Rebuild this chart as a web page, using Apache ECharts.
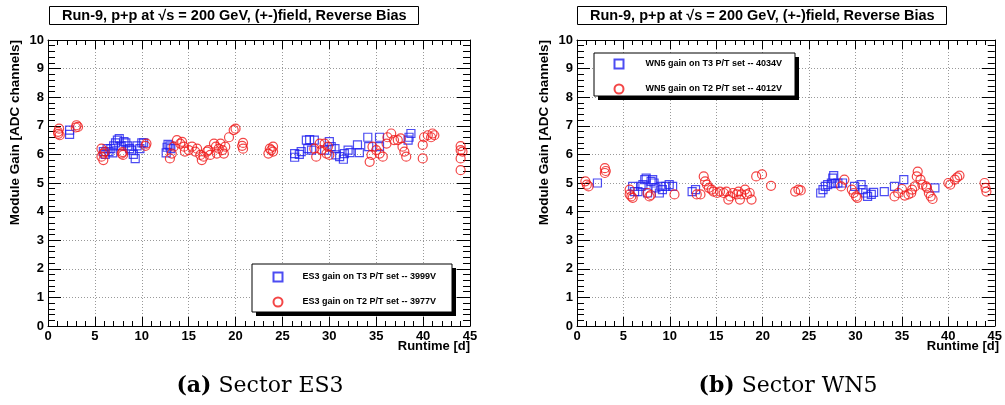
<!DOCTYPE html>
<html>
<head>
<meta charset="utf-8">
<script src="https://cdn.jsdelivr.net/npm/echarts@6/dist/echarts.min.js"></script>
<style>
  html, body { margin: 0; padding: 0; background: #fff; }
  #main { width: 1005px; height: 405px; }
</style>
</head>
<body>
<div id="main"></div>
<script>
// runtime [d] / module gain [ADC channels]
const es3T3 = [
  [2.3, 6.85], [2.3, 6.7],
  [5.9, 6.1], [6.1, 6.0], [6.3, 6.2], [6.5, 6.1], [6.7, 6.2], [6.9, 6.05], [7.0, 6.3], [7.2, 6.4],
  [7.4, 6.5], [7.6, 6.55], [7.8, 6.3], [8.1, 6.45], [8.3, 6.4], [8.5, 6.3], [8.7, 6.2], [8.9, 6.15],
  [9.1, 6.0], [9.3, 5.85], [9.5, 6.3], [9.8, 6.2], [10.0, 6.4], [10.2, 6.4],
  [12.6, 6.05], [12.7, 6.25], [12.8, 6.35], [13.0, 6.3], [13.1, 6.2],
  [26.3, 6.03], [26.3, 5.9], [26.8, 6.0], [27.0, 6.1], [27.55, 6.5], [27.7, 6.2], [27.9, 6.52],
  [28.1, 6.15], [28.4, 6.5], [29.5, 6.15], [30.0, 6.45], [30.2, 6.27], [30.6, 6.2], [30.7, 5.98],
  [31.1, 5.92], [31.5, 5.83], [31.6, 6.03], [32.0, 6.15], [32.2, 6.06], [33.0, 6.33], [33.2, 6.06],
  [34.1, 6.6], [34.2, 6.27], [35.35, 6.6], [35.35, 6.27], [38.4, 6.5], [38.5, 6.6], [38.7, 6.73]
];
const es3T2 = [
  [1.07, 6.79], [1.18, 6.9], [1.25, 6.67], [1.1, 6.72],
  [2.96, 6.94], [3.04, 7.02], [3.2, 6.96],
  [5.7, 6.2], [5.7, 5.92], [5.9, 5.8], [5.9, 6.03], [6.05, 6.1],
  [7.86, 6.03], [8.0, 5.98], [7.95, 6.08],
  [10.4, 6.3], [10.5, 6.38],
  [13.0, 5.86], [13.2, 6.03], [13.4, 6.27], [13.75, 6.5], [14.1, 6.38], [14.3, 6.44], [14.5, 6.27],
  [14.6, 6.1], [15.0, 6.15], [15.36, 6.27], [15.7, 6.1], [15.9, 6.2], [16.25, 5.98], [16.4, 5.8],
  [16.6, 5.92], [16.96, 6.1], [17.1, 6.15], [17.3, 5.98], [17.7, 6.38], [17.9, 6.27], [18.0, 6.03],
  [18.2, 6.2], [18.4, 6.38], [18.6, 6.15], [18.75, 6.03], [18.9, 6.27], [19.3, 6.6], [19.8, 6.85], [20.0, 6.9],
  [20.7, 6.3], [20.8, 6.2], [20.8, 6.4],
  [23.5, 6.03], [23.65, 6.2], [23.8, 6.15], [24.0, 6.1], [24.0, 6.27],
  [28.4, 6.2], [28.6, 5.92], [28.97, 6.38], [29.15, 6.15], [29.5, 6.38], [29.7, 6.03], [29.85, 6.27], [30.0, 5.98],
  [34.3, 5.74], [34.5, 5.98], [34.6, 6.27], [35.0, 6.15], [35.35, 6.03], [35.7, 5.92], [36.1, 6.38],
  [36.2, 6.6], [36.6, 6.73], [36.9, 6.5], [37.3, 6.5], [37.6, 6.56], [37.8, 6.27], [38.0, 6.1], [38.2, 5.92],
  [39.96, 6.33], [39.96, 5.86], [40.1, 6.6], [40.5, 6.67], [40.85, 6.6], [41.0, 6.73], [41.2, 6.67],
  [44.0, 6.29], [44.0, 6.15], [44.0, 5.86], [44.0, 5.45], [44.2, 6.1]
];
const wn5T3 = [
  [2.2, 5.0],
  [6.0, 4.88], [6.2, 4.7], [6.56, 4.7], [6.9, 4.88], [7.1, 4.94], [7.3, 5.12], [7.45, 5.17], [7.6, 4.65],
  [7.98, 5.06], [8.15, 5.12], [8.3, 5.0], [8.5, 4.83], [8.87, 4.65], [9.04, 4.88], [9.2, 4.77],
  [9.57, 4.88], [9.93, 4.94], [10.3, 4.88],
  [12.4, 4.7], [12.77, 4.77],
  [26.25, 4.65], [26.5, 4.77], [26.75, 4.88], [27.0, 4.94], [27.4, 5.0], [27.55, 5.17], [27.65, 5.26],
  [27.8, 4.98], [28.1, 5.0], [28.6, 5.0], [29.9, 4.88], [30.6, 4.94], [30.8, 4.77], [31.1, 4.65],
  [31.3, 4.53], [31.7, 4.6], [31.95, 4.67], [33.1, 4.7], [34.2, 4.88], [35.2, 5.12], [38.55, 4.83]
];
const wn5T2 = [
  [0.9, 5.06], [1.06, 4.94], [1.24, 4.88],
  [3.0, 5.52], [3.0, 5.35], [3.1, 5.42],
  [5.67, 4.77], [5.67, 4.6], [5.85, 4.53], [6.0, 4.48],
  [7.6, 4.65], [7.8, 4.53], [7.95, 4.58],
  [10.5, 4.6],
  [12.9, 4.6], [13.3, 4.6], [13.65, 5.23], [13.8, 5.06], [14.0, 4.94], [14.2, 4.83], [14.5, 4.77],
  [14.7, 4.7], [15.1, 4.65], [15.4, 4.7], [15.8, 4.65], [16.1, 4.7], [16.3, 4.42], [16.5, 4.53],
  [16.8, 4.65], [17.2, 4.6], [17.4, 4.7], [17.55, 4.42], [17.7, 4.6], [18.1, 4.77], [18.3, 4.6],
  [18.6, 4.65], [18.8, 4.42], [19.3, 5.23], [19.93, 5.3],
  [20.9, 4.9], [23.5, 4.7], [23.85, 4.77], [24.1, 4.74],
  [28.45, 4.88], [28.8, 5.12], [29.6, 4.77], [29.8, 4.65], [30.05, 4.53], [30.2, 4.48],
  [34.2, 4.53], [34.6, 4.65], [35.0, 4.79], [35.3, 4.56], [35.7, 4.6], [36.0, 4.65], [36.1, 4.77],
  [36.4, 4.88], [36.6, 5.23], [36.7, 5.4], [37.0, 5.12], [37.2, 4.94], [37.6, 4.88], [37.7, 4.83],
  [37.9, 4.65], [38.1, 4.53], [38.3, 4.44],
  [40.0, 5.0], [40.2, 4.94], [40.7, 5.12], [40.95, 5.2], [41.2, 5.26],
  [43.9, 5.0], [44.0, 4.83], [44.1, 4.7]
];

const names = {
  es3T3: 'ES3 gain on T3 P/T set -- 3999V',
  es3T2: 'ES3 gain on T2 P/T set -- 3977V',
  wn5T3: 'WN5 gain on T3 P/T set -- 4034V',
  wn5T2: 'WN5 gain on T2 P/T set -- 4012V'
};
const titleText = 'Run-9, p+p at \u221As = 200 GeV, (+-)field, Reverse Bias';

const FONT = 'Liberation Sans, Arial, sans-serif';
const SERIF = 'DejaVu Serif, Liberation Serif, serif';
const BLUE = '#1f1fef';
const RED = '#f01818';

function xAx (grid, top) {
  return {
    type: 'value', gridIndex: grid, position: top ? 'top' : 'bottom',
    min: 0, max: 45, interval: 5,
    axisLine: { show: true, onZero: false, lineStyle: { color: '#000', width: 1 } },
    axisTick: { show: true, inside: true, length: 9, lineStyle: { color: '#000' } },
    minorTick: { show: true, splitNumber: 5, length: 5, lineStyle: { color: '#000' } },
    splitLine: { show: !top, lineStyle: { color: '#999', type: [1, 2], width: 1 } },
    axisLabel: { show: !top, color: '#000', fontFamily: FONT, fontWeight: 'bold', fontSize: 13, margin: 4 }
  }
}
function yAx (grid, right) {
  return {
    type: 'value', gridIndex: grid, position: right ? 'right' : 'left',
    min: 0, max: 10, interval: 1,
    axisLine: { show: true, onZero: false, lineStyle: { color: '#000', width: 1 } },
    axisTick: { show: true, inside: true, length: 13, lineStyle: { color: '#000' } },
    minorTick: { show: true, splitNumber: 5, length: 7, lineStyle: { color: '#000' } },
    splitLine: { show: !right, lineStyle: { color: '#999', type: [1, 2], width: 1 } },
    axisLabel: { show: !right, color: '#000', fontFamily: FONT, fontWeight: 'bold', fontSize: 13, margin: 4 }
  }
}
function scat (name, data, xi, yi, sym, color) {
  return {
    name: name, type: 'scatter', xAxisIndex: xi, yAxisIndex: yi,
    data: data, symbol: sym, symbolSize: sym === 'rect' ? 8 : 9,
    itemStyle: { color: 'rgba(255,255,255,0)', borderColor: color, borderWidth: 1.2 },
    emphasis: { disabled: true }
  }
}
function legendItems (left, top, data, textPad) {
  return {
    left: left, top: top, orient: 'vertical', data: data,
    padding: 0, itemWidth: 9, itemHeight: 9, itemGap: 14,
    selectedMode: false, z: 10,
    textStyle: { color: '#000', fontFamily: FONT, fontWeight: 'bold', fontSize: 9, lineHeight: 9, padding: [0, 0, 0, textPad] }
  }
}
// legend frame with the ROOT-style solid drop shadow
function legendFrame (x, y, w, h) {
  return [
    { type: 'rect', shape: { x: x + 4, y: y + 4, width: w, height: h }, style: { fill: '#000' }, z: 5 },
    { type: 'rect', shape: { x: x, y: y, width: w, height: h }, style: { fill: '#fff', stroke: '#000', lineWidth: 1 }, z: 6 }
  ]
}
function titleBox (left) {
  return {
    text: titleText, left: left, top: 6,
    borderColor: '#000', borderWidth: 1, backgroundColor: '#fff',
    padding: [2, 12, 2, 13],
    textStyle: { color: '#000', fontFamily: FONT, fontWeight: 'bold', fontSize: 14.5 }
  }
}
function vText (x, txt) {
  return {
    type: 'text', x: x, y: 40, rotation: Math.PI / 2,
    style: { text: txt, align: 'right', verticalAlign: 'middle', fill: '#000', font: 'bold 13.5px ' + FONT }
  }
}
function hText (x, txt) {
  return {
    type: 'text', x: x, y: 346,
    style: { text: txt, align: 'right', verticalAlign: 'middle', fill: '#000', font: 'bold 13px ' + FONT }
  }
}
function caption (x, tag, rest) {
  return {
    type: 'text', x: x, y: 386,
    style: {
      text: '{b|' + tag + '} ' + rest, align: 'center', verticalAlign: 'middle', fill: '#000',
      font: '22px ' + SERIF,
      rich: { b: { fontWeight: 'bold', fontSize: 22, fontFamily: SERIF } }
    }
  }
}

const chart = echarts.init(document.getElementById('main'), null, { renderer: 'canvas' });
chart.setOption({
  animation: false,
  backgroundColor: '#fff',
  title: [titleBox(49), titleBox(577)],
  legend: [
    legendItems(272.5, 271.5, [names.es3T3, names.es3T2], 15),
    legendItems(613.5, 58.5, [names.wn5T3, names.wn5T2], 17)
  ],
  grid: [
    { left: 48, right: 535, top: 40, bottom: 79 },
    { left: 577, right: 6, top: 40, bottom: 79 }
  ],
  xAxis: [xAx(0, false), xAx(0, true), xAx(1, false), xAx(1, true)],
  yAxis: [yAx(0, false), yAx(0, true), yAx(1, false), yAx(1, true)],
  series: [
    scat(names.es3T3, es3T3, 0, 0, 'rect', BLUE),
    scat(names.es3T2, es3T2, 0, 0, 'circle', RED),
    scat(names.wn5T3, wn5T3, 2, 2, 'rect', BLUE),
    scat(names.wn5T2, wn5T2, 2, 2, 'circle', RED)
  ],
  graphic: [].concat(
    legendFrame(252, 264, 200, 48),
    legendFrame(594, 53, 201, 43),
    [
      vText(15, 'Module Gain [ADC channels]'),
      vText(544, 'Module Gain [ADC channels]'),
      hText(470, 'Runtime [d]'),
      hText(999, 'Runtime [d]'),
      caption(260, '(a)', 'Sector ES3'),
      caption(788, '(b)', 'Sector WN5')
    ]
  )
});
</script>
</body>
</html>
